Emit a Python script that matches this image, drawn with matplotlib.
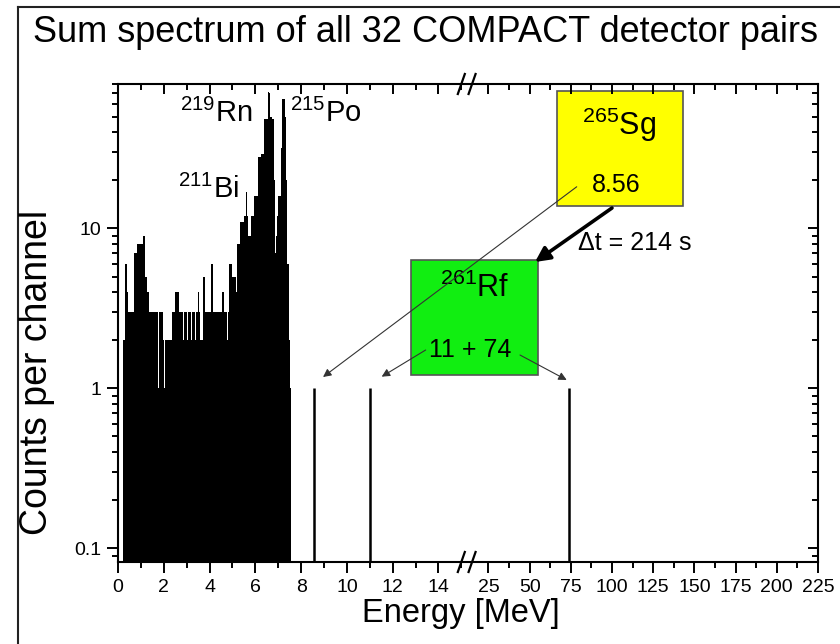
import matplotlib
matplotlib.use('Agg')
import matplotlib.pyplot as plt
from matplotlib.lines import Line2D
from matplotlib.patches import Rectangle
from matplotlib.ticker import FixedLocator, NullFormatter, LogLocator
import numpy as np

plt.rcParams['font.family'] = ['Liberation Sans', 'DejaVu Sans']
plt.rcParams['mathtext.fontset'] = 'custom'
plt.rcParams['mathtext.rm'] = 'Liberation Sans'
plt.rcParams['mathtext.it'] = 'Liberation Sans:italic'
plt.rcParams['mathtext.bf'] = 'Liberation Sans:bold'

# spectrum: channels of 0.05 MeV starting at 0.20 MeV
channel_low = 0.20
channel_width = 0.05
counts = [
    2, 2, 6, 6, 4, 3, 3, 3, 3, 3,
    7, 7, 7, 8, 8, 8, 8, 8, 9, 9,
    5, 4, 4, 3, 3, 3, 3, 3, 3, 3,
    3, 1, 3, 3, 3, 2, 1, 2, 2, 2,
    2, 2, 2, 3, 3, 3, 4, 4, 4, 3,
    3, 3, 3, 2, 3, 3, 2, 3, 3, 3,
    2, 3, 3, 2, 3, 3, 4, 3, 2, 2,
    5, 5, 3, 3, 3, 3, 3, 6, 6, 3,
    3, 3, 3, 3, 3, 3, 3, 4, 4, 3,
    3, 2, 3, 6, 6, 6, 5, 5, 5, 4,
    8, 8, 8, 11, 11, 11, 12, 12, 17, 12,
    9, 9, 12, 12, 12, 16, 16, 16, 28, 28,
    28, 29, 29, 29, 48, 48, 48, 71, 70, 50,
    50, 48, 20, 7, 9, 12, 16, 16, 32, 64,
    64, 64, 50, 20, 6, 2, 1,
]

# single decay chain events
event_energy = [8.56, 11.0, 74.0]
event_counts = [1, 1, 1]

left_ticks = [0, 2, 4, 6, 8, 10, 12, 14]
right_ticks = [25, 50, 75, 100, 125, 150, 175, 200, 225]
left_minor = [1, 3, 5, 7, 9, 11, 13, 15]
right_minor = [37.5, 62.5, 87.5, 112.5, 137.5, 162.5, 187.5, 212.5]

# broken axis: linear up to B, compressed above
B = 15.5
R = 0.072


def fwd(x):
    x = np.asarray(x, dtype=float)
    return np.where(x <= B, x, B + (x - B) * R)


def inv(u):
    u = np.asarray(u, dtype=float)
    return np.where(u <= B, u, B + (u - B) / R)


fig = plt.figure(figsize=(8.4, 6.44), dpi=100)
ax = fig.add_axes([118 / 840, 1 - 562 / 644, 700 / 840, 478 / 644])

edges = channel_low + channel_width * np.arange(len(counts) + 1)
ax.stairs(counts, edges, fill=True, baseline=0.01, color='black', lw=0)
ax.vlines(event_energy, 0.01, event_counts, color='black', lw=1.8)

ax.set_yscale('log')
ax.set_ylim(0.082, 80)
ax.set_xscale('function', functions=(fwd, inv))
ax.set_xlim(0, 225)

ax.xaxis.set_major_locator(FixedLocator(left_ticks + right_ticks))
ax.xaxis.set_minor_locator(FixedLocator(left_minor + right_minor))
ax.set_xticklabels([str(t) for t in left_ticks + right_ticks])
ax.set_yticks([0.1, 1, 10])
ax.set_yticklabels(['0.1', '1', '10'])
ax.yaxis.set_minor_locator(LogLocator(base=10, subs=np.arange(2, 10)))
ax.yaxis.set_minor_formatter(NullFormatter())

ax.tick_params(axis='both', which='major', direction='out', length=8, width=1.4,
               labelsize=14, top=False, right=False, pad=4)
ax.tick_params(axis='both', which='minor', direction='out', length=4, width=1.4,
               top=False, right=False)
for s in ax.spines.values():
    s.set_linewidth(1.5)

# inward ticks on top and right
axt = ax.twiny()
axt.set_xscale('function', functions=(fwd, inv))
axt.set_xlim(0, 225)
axt.xaxis.set_major_locator(FixedLocator(left_ticks + right_ticks))
axt.xaxis.set_minor_locator(FixedLocator(left_minor + right_minor))
axt.tick_params(axis='x', which='major', direction='in', length=7, width=1.4, labeltop=False)
axt.tick_params(axis='x', which='minor', direction='in', length=4, width=1.4)
axr = ax.twinx()
axr.set_yscale('log')
axr.set_ylim(0.082, 80)
axr.set_yticks([0.1, 1, 10])
axr.yaxis.set_minor_locator(LogLocator(base=10, subs=np.arange(2, 10)))
axr.yaxis.set_minor_formatter(NullFormatter())
axr.tick_params(axis='y', which='major', direction='in', length=7, width=1.4, labelright=False)
axr.tick_params(axis='y', which='minor', direction='in', length=4, width=1.4)
for a in (axt, axr):
    for s in a.spines.values():
        s.set_visible(False)

# break marks
umax = float(fwd(225))
for u in (15.0, 15.47):
    fx = u / umax
    for fy in (0, 1):
        ax.add_line(Line2D([fx - 3.5 / 700, fx + 3.5 / 700], [fy - 10 / 478, fy + 10 / 478],
                           transform=ax.transAxes, color='black', lw=1.6, clip_on=False))

# isotope labels
ax.text(0.0886, 0.9205, r'$^{219}$Rn', transform=ax.transAxes, fontsize=21, va='baseline')
ax.text(0.2457, 0.9205, r'$^{215}$Po', transform=ax.transAxes, fontsize=21, va='baseline')
ax.text(0.0857, 0.7615, r'$^{211}$Bi', transform=ax.transAxes, fontsize=21, va='baseline')

# decay chain boxes
ax.add_patch(Rectangle((0.627, 0.745), 0.180, 0.240, transform=ax.transAxes,
                       facecolor='#ffff00', edgecolor='#555555', lw=1.2, zorder=4))
ax.add_patch(Rectangle((0.4186, 0.391), 0.1814, 0.241, transform=ax.transAxes,
                       facecolor='#11ee11', edgecolor='#555555', lw=1.2, zorder=4))
ax.text(0.7157, 0.893, r'$^{265}$Sg', transform=ax.transAxes, fontsize=22,
        ha='center', va='baseline', zorder=5)
ax.text(0.711, 0.774, '8.56', transform=ax.transAxes, fontsize=18,
        ha='center', va='baseline', zorder=5)
ax.text(0.51, 0.554, r'$^{261}$Rf', transform=ax.transAxes, fontsize=22,
        ha='center', va='baseline', zorder=5)
ax.text(0.503, 0.429, '11 + 74', transform=ax.transAxes, fontsize=18,
        ha='center', va='baseline', zorder=5)
ax.text(0.657, 0.653, 'Δt = 214 s', transform=ax.transAxes, fontsize=18,
        va='baseline', zorder=5)

ax.annotate('', xy=(0.5957, 0.6276), xytext=(0.7057, 0.7406),
            xycoords='axes fraction', textcoords='axes fraction',
            arrowprops=dict(arrowstyle='-|>', lw=2.6, color='black',
                            mutation_scale=22, shrinkA=0, shrinkB=0), zorder=6)
thin = dict(arrowstyle='-|>', lw=0.8, color='#333333', mutation_scale=12,
            shrinkA=0, shrinkB=0)
for tail, tip in [((0.6553, 0.785), (0.2929, 0.387)),
                  ((0.4395, 0.4435), (0.3767, 0.3877)),
                  ((0.5743, 0.433), (0.641, 0.3808))]:
    ax.annotate('', xy=tip, xytext=tail, xycoords='axes fraction',
                textcoords='axes fraction', arrowprops=thin, zorder=6)

fig.text(0.507, 1 - 42 / 644, 'Sum spectrum of all 32 COMPACT detector pairs',
         ha='center', va='baseline', fontsize=26)
fig.text(0.549, 1 - 622 / 644, 'Energy [MeV]', ha='center', va='baseline', fontsize=23.5)
fig.text(37 / 840, 1 - 372 / 644, 'Counts per channel', ha='center', va='center',
         rotation=90, fontsize=27)

# outer frame
fig.add_artist(Line2D([18 / 840, 18 / 840], [-0.1, 1 - 7 / 644], transform=fig.transFigure,
                      color='#222222', lw=1.5))
fig.add_artist(Line2D([18 / 840, 1.1], [1 - 7 / 644, 1 - 7 / 644], transform=fig.transFigure,
                      color='#222222', lw=1.5))

fig.savefig('out.png', dpi=100)
